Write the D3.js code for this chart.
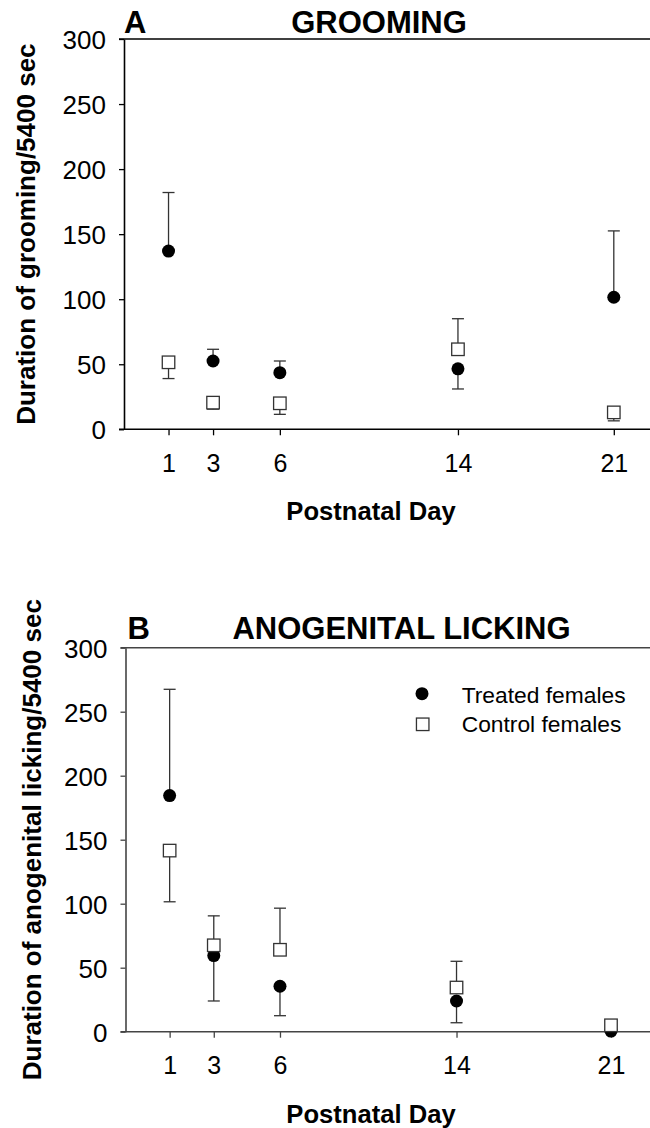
<!DOCTYPE html>
<html>
<head>
<meta charset="utf-8">
<script src="https://cdn.jsdelivr.net/npm/d3@7"></script>
<style>
  html, body { margin: 0; padding: 0; background: #fff; }
  svg { display: block; }
  text { font-family: "Liberation Sans", Arial, Helvetica, sans-serif; fill: #000; }
</style>
</head>
<body>
<svg id="chart" width="650" height="1128"></svg>
<script>
// Postnatal days on which maternal behaviour was scored
const days = [1, 3, 6, 14, 21];
const yTicks = [0, 50, 100, 150, 200, 250, 300];

// Panel A: grooming (mean and SEM, seconds per 5400 s)
const groomTreated    = [137, 52.5, 43.5, 46.5, 101.5];
const groomTreatedSem = [45, 9, 9, 15.5, 51];
const groomTreatedDir = [1, 1, 1, -1, 1];   // +1 whisker drawn upward, -1 downward
const groomControl    = [51.5, 20.5, 20, 61.5, 13];
const groomControlSem = [12.5, 5, 8.5, 23.5, 6.5];
const groomControlDir = [-1, -1, -1, 1, -1];

// Panel B: anogenital licking
const lickTreated    = [184.5, 59.5, 35.5, 24, 0.5];
const lickTreatedSem = [83, 35.5, 23, 17, 0];
const lickTreatedDir = [1, -1, -1, -1, 1];
const lickControl    = [141.5, 67.5, 64, 34.5, 5];
const lickControlSem = [40, 23, 32.5, 20.5, 0];
const lickControlDir = [-1, 1, 1, 1, 1];

const seriesNames = ["Treated females", "Control females"];

const svg = d3.select("#chart");
const W = 650;
const FONT = '"Liberation Sans", Arial, Helvetica, sans-serif';

function drawPanel(cfg) {
  const x = d3.scaleLinear().domain([-1, 21]).range([cfg.left, cfg.right21]);
  const y = d3.scaleLinear().domain([0, 300]).range([cfg.bottom, cfg.top]);
  const g = svg.append("g");

  // frame: top and bottom rules run to the page edge, left rule is the y axis
  g.append("line").attr("x1", cfg.left - 5).attr("x2", W)
    .attr("y1", y(300)).attr("y2", y(300))
    .attr("stroke", cfg.axisColor).attr("stroke-width", 1.6);
  g.append("line").attr("x1", cfg.left - 5).attr("x2", W)
    .attr("y1", y(0)).attr("y2", y(0))
    .attr("stroke", cfg.axisColor).attr("stroke-width", 1.6);

  // y axis
  const ya = g.append("g").attr("transform", `translate(${cfg.left},0)`)
    .call(d3.axisLeft(y).tickValues(yTicks).tickSize(5).tickSizeOuter(0));
  ya.select(".domain").attr("stroke", cfg.axisColor).attr("stroke-width", 1.6);
  ya.selectAll(".tick line").attr("stroke", cfg.axisColor).attr("stroke-width", 1.3);
  ya.selectAll(".tick text")
    .attr("x", -18).attr("dy", "0.36em")
    .style("font-family", FONT).style("font-size", "26px").attr("fill", "#000");

  // x axis
  const xa = g.append("g").attr("transform", `translate(0,${cfg.bottom})`)
    .call(d3.axisBottom(x).tickValues(days).tickSize(6).tickSizeOuter(0));
  xa.select(".domain").remove();
  xa.selectAll(".tick line").attr("stroke", cfg.axisColor).attr("stroke-width", 1.3);
  xa.selectAll(".tick text")
    .attr("y", 42.5).attr("dy", "0")
    .style("font-family", FONT).style("font-size", "25px").attr("fill", "#000");

  // axis titles
  g.append("text")
    .attr("x", 371).attr("y", cfg.bottom + 91)
    .attr("text-anchor", "middle")
    .style("font-size", "25.6px").style("font-weight", "bold")
    .text("Postnatal Day");
  g.append("text")
    .attr("transform", `translate(${cfg.yLabelX},${(y(0) + y(300)) / 2}) rotate(-90)`)
    .attr("text-anchor", "middle")
    .style("font-size", "26px").style("font-weight", "bold")
    .text(cfg.yLabel);

  // panel letter and heading
  g.append("text").attr("x", cfg.letterX).attr("y", cfg.headY)
    .style("font-size", "31px").style("font-weight", "bold").text(cfg.letter);
  g.append("text").attr("x", cfg.headX).attr("y", cfg.headY)
    .attr("text-anchor", "middle")
    .style("font-size", "31px").style("font-weight", "bold").text(cfg.heading);

  // one-sided SEM whiskers
  const cap = 6;
  function whiskers(vals, sems, dirs) {
    const rows = days.map((d, i) => ({ d, v: vals[i], e: vals[i] + dirs[i] * sems[i], s: sems[i] }))
      .filter(r => r.s > 0);
    const wg = g.append("g").attr("stroke", "#333").attr("stroke-width", 1.3);
    wg.selectAll("line.stem").data(rows).join("line").attr("class", "stem")
      .attr("x1", r => x(r.d)).attr("x2", r => x(r.d))
      .attr("y1", r => y(r.v)).attr("y2", r => y(r.e));
    wg.selectAll("line.cap").data(rows).join("line").attr("class", "cap")
      .attr("x1", r => x(r.d) - cap).attr("x2", r => x(r.d) + cap)
      .attr("y1", r => y(r.e)).attr("y2", r => y(r.e));
  }
  whiskers(cfg.treated, cfg.treatedSem, cfg.treatedDir);
  whiskers(cfg.control, cfg.controlSem, cfg.controlDir);

  // treated: filled circles
  g.append("g").selectAll("circle").data(days).join("circle")
    .attr("cx", d => x(d)).attr("cy", (d, i) => y(cfg.treated[i]))
    .attr("r", 6.5).attr("fill", "#000");
  // control: open squares
  const s = 12.5;
  g.append("g").selectAll("rect").data(days).join("rect")
    .attr("x", d => x(d) - s / 2).attr("y", (d, i) => y(cfg.control[i]) - s / 2)
    .attr("width", s).attr("height", s)
    .attr("fill", "#fff").attr("stroke", "#333").attr("stroke-width", 1.3);

  return { x, y, g };
}

drawPanel({
  left: 124, right21: 613.8, top: 39, bottom: 429.3, axisColor: "#000",
  yLabelX: 35, yLabel: "Duration of grooming/5400 sec",
  letter: "A", letterX: 124, headX: 379, headY: 32.5, heading: "GROOMING",
  treated: groomTreated, treatedSem: groomTreatedSem, treatedDir: groomTreatedDir,
  control: groomControl, controlSem: groomControlSem, controlDir: groomControlDir
});

const pB = drawPanel({
  left: 125.5, right21: 611, top: 647.7, bottom: 1031.7, axisColor: "#444",
  yLabelX: 41, yLabel: "Duration of anogenital licking/5400 sec",
  letter: "B", letterX: 127.5, headX: 401.5, headY: 639.3, heading: "ANOGENITAL LICKING",
  treated: lickTreated, treatedSem: lickTreatedSem, treatedDir: lickTreatedDir,
  control: lickControl, controlSem: lickControlSem, controlDir: lickControlDir
});

// legend (panel B)
const leg = svg.append("g");
const legRows = [{ name: seriesNames[0], cy: 693.7, base: 702.7 }, { name: seriesNames[1], cy: 724.3, base: 731.7 }];
leg.append("circle").attr("cx", 422).attr("cy", legRows[0].cy).attr("r", 6.5).attr("fill", "#000");
leg.append("rect").attr("x", 422.7 - 6.25).attr("y", legRows[1].cy - 6.25)
  .attr("width", 12.5).attr("height", 12.5)
  .attr("fill", "#fff").attr("stroke", "#333").attr("stroke-width", 1.3);
leg.selectAll("text").data(legRows).join("text")
  .attr("x", 461.7).attr("y", r => r.base)
  .style("font-size", "22.8px").text(r => r.name);
</script>
</body>
</html>
